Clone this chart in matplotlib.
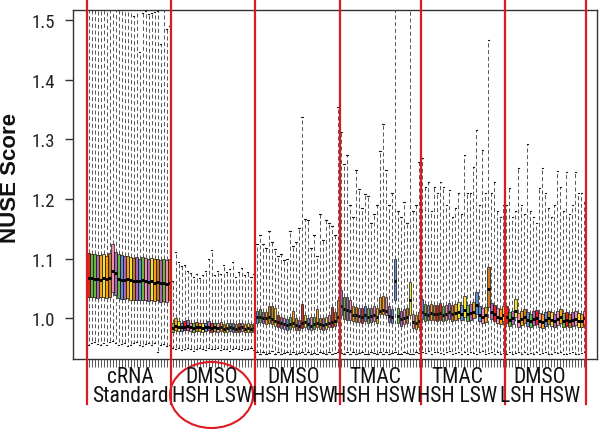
import matplotlib
matplotlib.use("Agg")
import matplotlib.pyplot as plt
from matplotlib.patches import Ellipse
import numpy as np
import logging
logging.getLogger("matplotlib.font_manager").setLevel(logging.ERROR)

plt.rcParams['lines.scale_dashes'] = False
NARROW = ['Roboto Condensed', 'Archivo Narrow', 'PT Sans Narrow', 'Fira Sans Condensed', 'Liberation Sans']
BOLD = ['Liberation Sans', 'DejaVu Sans']

# ---------------- data ----------------
group_line1 = ["cRNA", "DMSO", "DMSO", "TMAC", "TMAC", "DMSO"]
group_line2 = ["Standard", "HSH LSW", "HSH HSW", "HSH HSW", "HSH LSW", "LSH HSW"]
y_ticks = [1.0, 1.1, 1.2, 1.3, 1.4, 1.5]
y_label = "NUSE Score"

# group 1: cRNA Standard
med1 = [1.068, 1.067, 1.066, 1.066, 1.065, 1.067, 1.066, 1.068, 1.080, 1.076, 1.066, 1.064, 1.065, 1.066,
        1.064, 1.062, 1.063, 1.062, 1.064, 1.063, 1.061, 1.062, 1.060, 1.061, 1.059, 1.060, 1.058, 1.059]
q1_1 = [1.036, 1.035, 1.036, 1.034, 1.036, 1.035, 1.034, 1.036, 1.044, 1.040, 1.034, 1.033, 1.032, 1.034,
        1.031, 1.030, 1.031, 1.030, 1.031, 1.030, 1.029, 1.030, 1.029, 1.030, 1.028, 1.029, 1.028, 1.030]
q3_1 = [1.110, 1.108, 1.108, 1.107, 1.106, 1.108, 1.105, 1.110, 1.124, 1.112, 1.108, 1.106, 1.104, 1.105,
        1.102, 1.101, 1.103, 1.100, 1.102, 1.101, 1.100, 1.101, 1.099, 1.100, 1.098, 1.099, 1.097, 1.099]
hi1 = [1.58, 1.57, 1.56, 1.58, 1.57, 1.56, 1.55, 1.58, 1.57, 1.56, 1.58, 1.55, 1.56, 1.56,
       1.55, 1.507, 1.56, 1.446, 1.512, 1.514, 1.510, 1.512, 1.513, 1.515, 1.460, 1.55, 1.485, 1.49]
lo1 = [0.955, 0.958, 0.960, 0.957, 0.955, 0.959, 0.956, 0.960, 0.962, 0.958, 0.955, 0.957, 0.959, 0.954,
       0.956, 0.958, 0.960, 0.955, 0.953, 0.957, 0.959, 0.956, 0.958, 0.944, 0.955, 0.957, 0.953, 0.955]

# group 2: DMSO HSH LSW
med2 = [0.984, 0.987, 0.986, 0.985, 0.986, 0.987, 0.985, 0.984, 0.986, 0.985, 0.984, 0.985, 0.986, 0.984,
        0.985, 0.984, 0.985, 0.983, 0.984, 0.985, 0.984, 0.983, 0.984, 0.985, 0.983, 0.984, 0.983, 0.984]
q1_2 = [0.978, 0.980, 0.979, 0.979, 0.980, 0.981, 0.979, 0.978, 0.979, 0.979, 0.978, 0.979, 0.980, 0.978,
        0.979, 0.978, 0.979, 0.977, 0.978, 0.979, 0.978, 0.977, 0.978, 0.979, 0.977, 0.978, 0.977, 0.978]
q3_2 = [0.993, 1.001, 0.995, 0.993, 0.996, 0.998, 0.993, 0.992, 0.994, 0.993, 0.992, 0.993, 0.995, 0.992,
        0.993, 0.992, 0.994, 0.991, 0.992, 0.993, 0.992, 0.991, 0.992, 0.993, 0.991, 0.992, 0.991, 0.992]
hi2 = [1.062, 1.111, 1.095, 1.088, 1.090, 1.080, 1.076, 1.070, 1.075, 1.068, 1.072, 1.080, 1.100, 1.115,
       1.072, 1.080, 1.075, 1.090, 1.078, 1.082, 1.095, 1.070, 1.077, 1.085, 1.072, 1.078, 1.070, 1.075]
lo2 = [0.950, 0.948, 0.951, 0.947, 0.949, 0.950, 0.948, 0.946, 0.949, 0.951, 0.948, 0.947, 0.950, 0.949,
       0.948, 0.950, 0.947, 0.949, 0.948, 0.946, 0.949, 0.950, 0.948, 0.947, 0.949, 0.948, 0.950, 0.947]

# group 3: DMSO HSH HSW
med3 = [1.002, 1.003, 1.001, 1.000, 1.002, 0.999, 0.996, 0.994, 0.992, 0.990, 0.989, 0.991, 0.993, 0.989,
        0.987, 0.992, 0.994, 0.990, 0.988, 0.991, 0.993, 0.990, 0.989, 0.991, 0.993, 0.994, 0.996, 1.003]
q1_3 = [0.993, 0.994, 0.992, 0.991, 0.993, 0.990, 0.987, 0.986, 0.984, 0.982, 0.981, 0.983, 0.985, 0.981,
        0.980, 0.984, 0.985, 0.982, 0.980, 0.983, 0.985, 0.982, 0.981, 0.983, 0.985, 0.986, 0.988, 0.994]
q3_3 = [1.012, 1.015, 1.010, 1.011, 1.021, 1.020, 1.018, 1.005, 1.003, 1.000, 0.999, 1.002, 1.013, 1.000,
        0.998, 1.024, 1.006, 1.001, 1.003, 1.002, 1.016, 1.001, 1.000, 1.002, 1.005, 1.019, 1.010, 1.030]
hi3 = [1.125, 1.139, 1.125, 1.118, 1.147, 1.128, 1.116, 1.105, 1.108, 1.097, 1.100, 1.147, 1.122, 1.128,
       1.152, 1.337, 1.167, 1.164, 1.118, 1.140, 1.105, 1.175, 1.132, 1.164, 1.160, 1.155, 1.140, 1.354]
lo3 = [0.943, 0.941, 0.944, 0.940, 0.942, 0.945, 0.941, 0.943, 0.940, 0.942, 0.944, 0.941, 0.943, 0.940,
       0.942, 0.944, 0.941, 0.943, 0.940, 0.942, 0.941, 0.944, 0.942, 0.940, 0.943, 0.941, 0.942, 0.944]

# group 4: TMAC HSH HSW
med4 = [1.021, 1.016, 1.014, 1.012, 1.006, 1.005, 1.004, 1.003, 1.005, 1.003, 1.004, 1.006, 1.003, 1.013,
        1.014, 1.012, 1.004, 1.002, 1.062, 1.004, 0.999, 1.001, 1.003, 1.030, 0.994, 0.993, 0.996]
q1_4 = [1.005, 0.999, 0.998, 0.997, 0.995, 0.994, 0.994, 0.993, 0.995, 0.993, 0.994, 0.995, 0.993, 1.007,
        1.008, 1.006, 0.994, 0.992, 1.030, 0.993, 0.988, 0.990, 0.992, 1.005, 0.984, 0.983, 0.986]
q3_4 = [1.047, 1.036, 1.035, 1.030, 1.021, 1.019, 1.018, 1.017, 1.020, 1.017, 1.018, 1.021, 1.017, 1.036,
        1.037, 1.036, 1.020, 1.016, 1.100, 1.018, 1.013, 1.015, 1.018, 1.061, 1.008, 1.006, 1.010]
hi4 = [1.312, 1.259, 1.273, 1.190, 1.170, 1.248, 1.217, 1.185, 1.208, 1.205, 1.160, 1.175, 1.190, 1.281,
       1.326, 1.248, 1.190, 1.210, 1.600, 1.180, 1.170, 1.195, 1.160, 1.600, 1.180, 1.190, 1.262]
lo4 = [0.942, 0.940, 0.943, 0.941, 0.944, 0.940, 0.942, 0.943, 0.941, 0.940, 0.943, 0.942, 0.940, 0.944,
       0.941, 0.943, 0.940, 0.942, 0.944, 0.941, 0.940, 0.943, 0.942, 0.940, 0.941, 0.943, 0.942]

# group 5: TMAC HSH LSW
med5 = [1.010, 1.007, 1.006, 1.009, 1.008, 1.007, 1.009, 1.006, 1.008, 1.010, 1.007, 1.009, 1.011, 1.008,
        1.014, 1.007, 1.009, 1.011, 1.022, 1.006, 1.003, 1.005, 1.049, 1.010, 1.007, 1.003, 1.001, 1.006]
q1_5 = [0.999, 0.996, 0.997, 0.998, 0.997, 0.996, 0.998, 0.995, 0.997, 0.999, 0.996, 0.998, 1.000, 0.997,
        1.003, 0.996, 0.998, 1.000, 1.007, 0.995, 0.992, 0.994, 1.019, 0.999, 0.996, 0.992, 0.990, 0.995]
q3_5 = [1.033, 1.024, 1.022, 1.024, 1.023, 1.022, 1.025, 1.021, 1.023, 1.025, 1.022, 1.024, 1.027, 1.023,
        1.038, 1.022, 1.024, 1.028, 1.044, 1.021, 1.017, 1.019, 1.086, 1.026, 1.022, 1.018, 1.015, 1.021]
hi5 = [1.268, 1.220, 1.229, 1.180, 1.220, 1.210, 1.228, 1.220, 1.190, 1.215, 1.170, 1.185, 1.210, 1.175,
       1.274, 1.210, 1.210, 1.254, 1.315, 1.190, 1.282, 1.210, 1.466, 1.210, 1.229, 1.180, 1.170, 1.190]
lo5 = [0.944, 0.942, 0.945, 0.941, 0.943, 0.944, 0.942, 0.940, 0.943, 0.945, 0.941, 0.942, 0.944, 0.940,
       0.943, 0.941, 0.944, 0.942, 0.940, 0.943, 0.945, 0.941, 0.942, 0.944, 0.940, 0.943, 0.941, 0.942]

# group 6: DMSO LSH HSW
med6 = [1.003, 0.998, 1.000, 1.012, 0.996, 0.999, 1.002, 0.997, 0.995, 0.999, 1.001, 0.996, 0.994, 0.998,
        1.000, 0.997, 0.995, 0.999, 1.002, 0.996, 0.998, 0.995, 0.997, 0.999, 0.996, 0.995, 1.000]
q1_6 = [0.993, 0.988, 0.990, 1.003, 0.986, 0.989, 0.992, 0.987, 0.985, 0.989, 0.991, 0.986, 0.984, 0.988,
        0.990, 0.987, 0.985, 0.989, 0.992, 0.986, 0.988, 0.985, 0.987, 0.989, 0.986, 0.985, 0.990]
q3_6 = [1.020, 1.011, 1.012, 1.033, 1.009, 1.012, 1.016, 1.010, 1.008, 1.012, 1.014, 1.009, 1.007, 1.011,
        1.013, 1.010, 1.008, 1.012, 1.016, 1.009, 1.011, 1.008, 1.010, 1.012, 1.009, 1.008, 1.013]
hi6 = [1.190, 1.218, 1.170, 1.180, 1.252, 1.190, 1.175, 1.292, 1.180, 1.170, 1.160, 1.218, 1.252, 1.210,
       1.185, 1.170, 1.190, 1.247, 1.220, 1.180, 1.246, 1.175, 1.190, 1.246, 1.210, 1.210, 1.195]
lo6 = [0.941, 0.943, 0.940, 0.942, 0.944, 0.941, 0.943, 0.940, 0.942, 0.941, 0.944, 0.940, 0.942, 0.943,
       0.941, 0.940, 0.943, 0.942, 0.944, 0.941, 0.940, 0.942, 0.943, 0.941, 0.940, 0.942, 0.943]

# ---------------- style ----------------
palette = {"R": "#e0231d", "G": "#6cb33f", "P": "#a866b5", "O": "#f5a21b",
           "Y": "#f2e03a", "B": "#c7791e", "K": "#ee8fb0", "L": "#5b8ed6"}
color_seq = ("RGGPOYOBKPGLPOYBPLGKPYOBPGKB"
             "GOYLRPKGBOYLPRGKOBYLPGRKOYBL"
             "LGPOBBYRPKLGOBPRYLKGOBPYKRBG"
             "LGPKOBKRLGPKOOOKPLLGPKBYKOB"
             "LGPOBRRGKPBOYLYGPOLLKOBPRKOY"
             "RGPYKOBLGPRKOLBYPKOGRBPKYOK")
RED = "#dd1a22"

meds = [med1, med2, med3, med4, med5, med6]
q1s = [q1_1, q1_2, q1_3, q1_4, q1_5, q1_6]
q3s = [q3_1, q3_2, q3_3, q3_4, q3_5, q3_6]
his = [hi1, hi2, hi3, hi4, hi5, hi6]
los = [lo1, lo2, lo3, lo4, lo5, lo6]

stats = []
group_sizes = []
for g in range(6):
    group_sizes.append(len(meds[g]))
    for m, a, b, h, l in zip(meds[g], q1s[g], q3s[g], his[g], los[g]):
        stats.append(dict(med=m, q1=a, q3=b, whislo=l, whishi=h, fliers=[]))
N = len(stats)
positions = np.arange(1, N + 1)

W, H = 600, 431
fig = plt.figure(figsize=(W / 100, H / 100), dpi=100)
ax = fig.add_axes([73 / W, 1 - 360 / H, (597 - 73) / W, (360 - 10.7) / H])

res = ax.bxp(stats, positions=positions, widths=0.84, capwidths=0.45,
             patch_artist=True, showfliers=False,
             boxprops=dict(edgecolor="black", linewidth=0.45),
             whiskerprops=dict(color="#4a4a4a", linewidth=0.65, linestyle=(0, (2.9, 1.9))),
             capprops=dict(color="#1a1a1a", linewidth=0.8),
             medianprops=dict(color="black", linewidth=2.1, solid_capstyle="butt"))
for i, box in enumerate(res["boxes"]):
    box.set_facecolor(palette[color_seq[i % len(color_seq)]])

px_per_unit = 499 / N
ax.set_xlim(0.5 - 14 / px_per_unit, N + 0.5 + 11 / px_per_unit)
ax.set_ylim(0.932, 1.517)

ax.set_yticks(y_ticks)
ax.set_yticklabels([f"{v:.1f}" for v in y_ticks], fontsize=13.5, family=NARROW, color="#222")
ax.tick_params(axis="y", length=6, width=1.0, pad=7, color="#333")
ax.set_xticks(positions)
ax.set_xticklabels([])
ax.tick_params(axis="x", length=5.5, width=0.7, color="#555")
for s in ax.spines.values():
    s.set_color("#333")
    s.set_linewidth(1.0)

# group separators
bounds = np.concatenate([[0], np.cumsum(group_sizes)]) + 0.5
axh_px = 360 - 10.7
for b in bounds:
    ax.axvline(b, ymin=-(405 - 360) / axh_px, ymax=360 / axh_px, color=RED,
               linewidth=1.6, clip_on=False, zorder=6)

# group labels
label_px = [130, 212, 294, 375, 457, 540]
for xp, t1, t2 in zip(label_px, group_line1, group_line2):
    fig.text(xp / W, 1 - 378 / H, t1, ha="center", va="center", fontsize=15.5,
             family=NARROW, color="#111")
    fig.text(xp / W, 1 - 397 / H, t2, ha="center", va="center", fontsize=15.5,
             family=NARROW, color="#111")

fig.text(11 / W, 1 - 178 / H, y_label, rotation=90, ha="center", va="center",
         fontsize=16, fontweight="bold", family=BOLD, color="#111")

ell = Ellipse((211.5 / W, 1 - 396 / H), 83 / W, 66 / H, transform=fig.transFigure,
              fill=False, edgecolor=RED, linewidth=1.5)
fig.patches.append(ell)

fig.savefig("out.png", dpi=100, facecolor="white")
